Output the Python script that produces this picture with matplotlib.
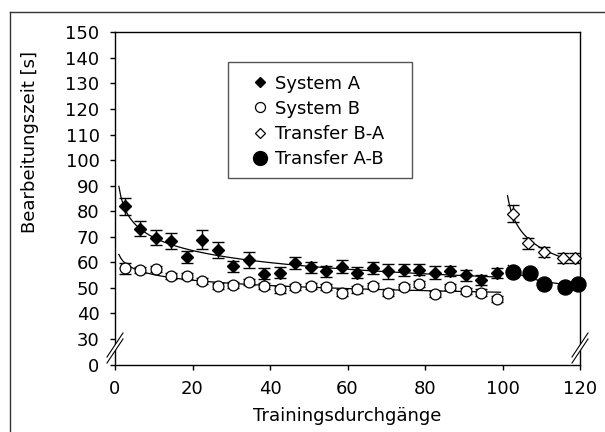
import numpy as np
import matplotlib
matplotlib.use('Agg')
import matplotlib.pyplot as plt
from matplotlib.lines import Line2D
from matplotlib.patches import Rectangle, Polygon

plt.rcParams['font.family'] = ['DejaVu Sans']
plt.rcParams['font.size'] = 13

# Trainingsdurchgänge (Blockmitten)
x_train = [2.5, 6.5, 10.5, 14.5, 18.5, 22.5, 26.5, 30.5, 34.5, 38.5, 42.5, 46.5, 50.5,
           54.5, 58.5, 62.5, 66.5, 70.5, 74.5, 78.5, 82.5, 86.5, 90.5, 94.5, 98.5]

sys_a = [82.0, 73.2, 69.7, 68.5, 62.2, 68.9, 64.8, 58.4, 60.8, 55.6, 56.0, 59.6, 58.0,
         56.5, 58.3, 56.0, 57.9, 56.5, 57.0, 57.1, 56.0, 56.6, 55.0, 53.2, 55.8]
sys_a_err = [3.3, 2.9, 2.8, 3.1, 2.3, 3.8, 3.0, 2.3, 3.1, 2.1, 2.0, 2.3, 2.2,
             2.1, 2.6, 2.1, 2.3, 2.9, 2.5, 2.1, 2.6, 2.1, 2.1, 2.0, 2.0]

sys_b = [57.7, 57.0, 57.4, 54.6, 54.6, 52.8, 50.8, 51.3, 52.2, 50.8, 49.4, 50.4, 50.8,
         50.2, 48.2, 49.4, 50.8, 48.2, 50.2, 51.4, 47.7, 50.2, 48.9, 48.2, 45.6]
sys_b_err = [2.1, 1.2, 1.2, 1.2, 1.2, 1.2, 1.2, 1.2, 1.2, 1.2, 1.2, 1.2, 1.2,
             1.2, 1.2, 1.2, 1.2, 1.2, 1.2, 1.2, 1.2, 1.2, 1.2, 1.2, 1.2]

x_ba = [102.8, 106.7, 110.7, 115.7, 118.8]
trans_ba = [79.1, 67.4, 64.2, 61.7, 61.6]
trans_ba_err = [3.5, 2.2, 2.0, 2.1, 2.0]

x_ab = [102.8, 107.0, 110.8, 116.0, 119.4]
trans_ab = [56.1, 55.9, 51.5, 50.5, 51.4]

y_ticks = [20, 30, 40, 50, 60, 70, 80, 90, 100, 110, 120, 130, 140, 150]
y_labels = ['0', '30', '40', '50', '60', '70', '80', '90', '100', '110', '120', '130', '140', '150']


def power_fit(x, y, x_from, x_to, offset=0.0):
    # Potenz-Trendlinie wie in Excel: ln y = ln a + b ln x
    xs = np.asarray(x) - offset
    b, ln_a = np.polyfit(np.log(xs), np.log(y), 1)
    xx = np.linspace(x_from - offset, x_to - offset, 200)
    return xx + offset, np.exp(ln_a) * xx ** b


fig = plt.figure(figsize=(6.05, 4.32), dpi=100)
ax = fig.add_axes([115 / 605, 1 - 364.6 / 432, 465 / 605, 332.3 / 432])

# Trendlinien
for xs, ys, x0, x1, off in [(x_train, sys_a, 1.0, 99.5, 0.0),
                            (x_train, sys_b, 1.0, 99.5, 0.0),
                            (x_ba, trans_ba, 101.3, 119.6, 100.0),
                            (x_ab, trans_ab, 101.5, 119.6, 100.0)]:
    fx, fy = power_fit(xs, ys, x0, x1, off)
    ax.plot(fx, fy, color='black', lw=0.9, zorder=2)

# Fehlerbalken
ebkw = dict(fmt='none', ecolor='black', elinewidth=1.0, capsize=4.3, capthick=1.0, zorder=3)
ax.errorbar(x_train, sys_a, yerr=sys_a_err, **ebkw)
ax.errorbar(x_train, sys_b, yerr=sys_b_err, **ebkw)
ax.errorbar(x_ba, trans_ba, yerr=trans_ba_err, **ebkw)

# Messpunkte
ax.plot(x_train, sys_a, ls='none', marker='D', ms=6.4, mfc='black', mec='black', zorder=4)
ax.plot(x_train, sys_b, ls='none', marker='o', ms=7.8, mfc='white', mec='black', mew=0.9, zorder=4)
ax.plot(x_ba, trans_ba, ls='none', marker='D', ms=6.0, mfc='white', mec='black', mew=0.9,
        zorder=4, clip_on=False)
ax.plot(x_ab, trans_ab, ls='none', marker='o', ms=10.8, mfc='black', mec='black',
        zorder=4, clip_on=False)

ax.set_xlim(0, 120)
ax.set_ylim(20, 150)
ax.set_xticks([0, 20, 40, 60, 80, 100, 120])
ax.set_yticks(y_ticks)
ax.set_yticklabels(y_labels)
ax.tick_params(direction='out', length=3.6, width=1.0, labelsize=13, pad=7.5, colors='black')
for s in ax.spines.values():
    s.set_linewidth(1.0)
    s.set_color('black')

ax.set_ylabel('Bearbeitungszeit [s]', fontsize=13, va='center', ha='center')
ax.yaxis.set_label_coords(-0.182, 0.67)
ax.set_xlabel('Trainingsdurchgänge', fontsize=13, va='center', ha='center')
ax.xaxis.set_label_coords(0.5, -0.155)

# Achsenunterbrechung
dx, dy, gap = 8 / 465, 12 / 332.3, 3 / 332.3
yc = (26.5 - 20) / 130
for x0 in (0.0, 1.0):
    ax.add_patch(Polygon([(x0 - dx, yc - dy - gap), (x0 + dx, yc + dy - gap),
                          (x0 + dx, yc + dy + gap), (x0 - dx, yc - dy + gap)],
                         closed=True, transform=ax.transAxes, facecolor='white',
                         edgecolor='none', zorder=5, clip_on=False))
    for g in (-gap, gap):
        ax.plot([x0 - dx, x0 + dx], [yc - dy + g, yc + dy + g], transform=ax.transAxes,
                color='black', lw=0.8, zorder=6, clip_on=False)

# Legende
handles = [
    Line2D([], [], ls='none', marker='D', ms=5.2, mfc='black', mec='black'),
    Line2D([], [], ls='none', marker='o', ms=7.2, mfc='white', mec='black', mew=0.9),
    Line2D([], [], ls='none', marker='D', ms=5.2, mfc='white', mec='black', mew=0.9),
    Line2D([], [], ls='none', marker='o', ms=10.0, mfc='black', mec='black'),
]
labels = ['System A', 'System B', 'Transfer B-A', 'Transfer A-B']
ax.legend(handles, labels, loc='upper left', bbox_to_anchor=(0.297, 0.873), frameon=False,
          borderpad=0, handlelength=0.75, handletextpad=0.45, labelspacing=0.4,
          fontsize=13, borderaxespad=0)
ax.add_patch(Rectangle((0.243, 0.562), 0.396, 0.349, transform=ax.transAxes, fill=False,
                       edgecolor='#555555', lw=1.0, zorder=5))

# Rahmen oben und links
fig.add_artist(Line2D([10 / 605, 10 / 605], [0, 1 - 12 / 432], transform=fig.transFigure,
                      color='#333333', lw=1.0))
fig.add_artist(Line2D([10 / 605, 1], [1 - 12 / 432, 1 - 12 / 432], transform=fig.transFigure,
                      color='#333333', lw=1.0))

fig.savefig('out.png', dpi=100)
plt.close(fig)
